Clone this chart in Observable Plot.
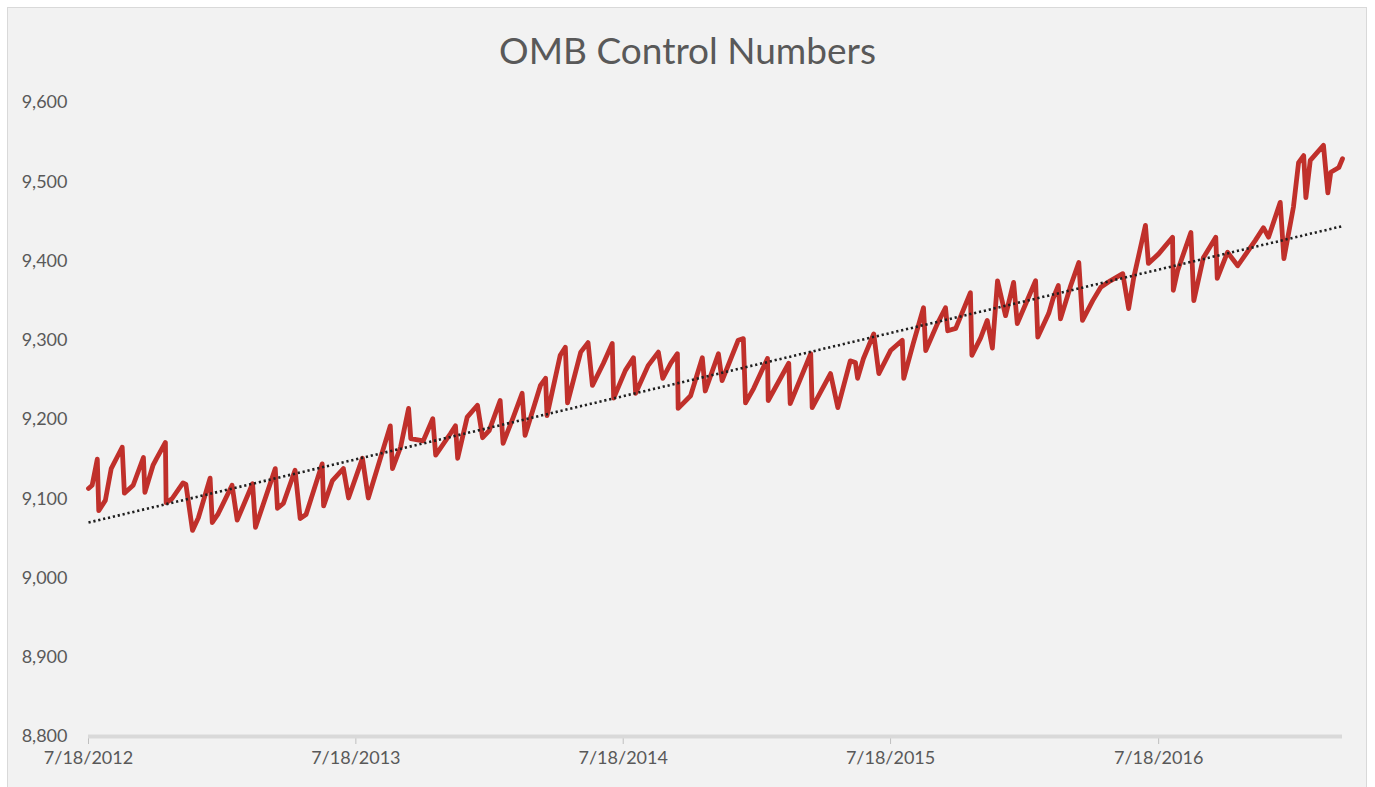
<!DOCTYPE html>
<html>
<head>
<meta charset="utf-8">
<script src="https://cdn.jsdelivr.net/npm/d3@7"></script>
<script src="https://cdn.jsdelivr.net/npm/@observablehq/plot@0.6"></script>
<style>
  body { margin: 0; background: #ffffff; width: 1375px; height: 787px; overflow: hidden; position: relative; }
  #panel { position: absolute; left: 7px; top: 7px; width: 1360px; height: 800px; background: #f2f2f2; border: 1px solid #d9d9d9; box-sizing: border-box; }
  #title { position: absolute; left: 0; top: 27px; width: 1375px; text-align: center; font-family: Lato, "Open Sans", sans-serif; font-size: 37px; color: #595959; line-height: 46px; }
  #chart { position: absolute; left: 8px; top: 80px; }
</style>
</head>
<body>
<div id="panel"></div>
<div id="title">OMB Control Numbers</div>
<div id="chart"></div>
<script>
// Values: [date, number of OMB control numbers]
const y2012 = [["2012-07-18",9113],["2012-07-23",9117],["2012-07-30",9150],["2012-08-01",9085],["2012-08-10",9098],["2012-08-18",9138],["2012-09-02",9165],["2012-09-05",9107],["2012-09-17",9117],["2012-10-01",9152],["2012-10-03",9108],["2012-10-14",9142],["2012-10-19",9151],["2012-10-31",9171],["2012-11-01",9095],["2012-11-09",9100],["2012-11-24",9120],["2012-11-28",9118],["2012-12-07",9060],["2012-12-15",9076],["2012-12-31",9126]];
const y2013 = [["2013-01-03",9070],["2013-01-11",9081],["2013-01-30",9117],["2013-02-06",9073],["2013-02-27",9119],["2013-03-03",9064],["2013-03-30",9138],["2013-04-02",9088],["2013-04-10",9094],["2013-04-26",9136],["2013-05-03",9075],["2013-05-11",9080],["2013-06-02",9144],["2013-06-04",9091],["2013-06-16",9123],["2013-07-01",9138],["2013-07-08",9101],["2013-07-27",9151],["2013-08-04",9101],["2013-09-03",9192],["2013-09-06",9138],["2013-09-17",9165],["2013-09-28",9214],["2013-10-01",9176],["2013-10-18",9173],["2013-10-31",9201],["2013-11-04",9155],["2013-11-24",9182],["2013-12-01",9192],["2013-12-04",9151],["2013-12-17",9203],["2013-12-31",9218]];
const y2014 = [["2014-01-07",9177],["2014-01-16",9186],["2014-01-31",9224],["2014-02-04",9170],["2014-02-18",9203],["2014-03-02",9233],["2014-03-06",9180],["2014-03-27",9243],["2014-04-03",9252],["2014-04-05",9205],["2014-04-23",9281],["2014-04-30",9291],["2014-05-03",9221],["2014-05-21",9285],["2014-05-31",9297],["2014-06-06",9243],["2014-06-21",9271],["2014-07-03",9296],["2014-07-05",9227],["2014-07-21",9262],["2014-08-01",9278],["2014-08-04",9233],["2014-08-21",9268],["2014-09-04",9285],["2014-09-10",9252],["2014-09-21",9271],["2014-09-30",9283],["2014-10-01",9214],["2014-10-18",9230],["2014-11-03",9278],["2014-11-07",9236],["2014-11-25",9283],["2014-11-30",9249],["2014-12-22",9300],["2014-12-29",9302]];
const y2015 = [["2015-01-01",9221],["2015-01-12",9239],["2015-01-31",9277],["2015-02-01",9224],["2015-03-01",9271],["2015-03-03",9220],["2015-03-31",9283],["2015-04-02",9215],["2015-04-27",9258],["2015-05-07",9215],["2015-05-24",9274],["2015-05-31",9272],["2015-06-03",9252],["2015-06-11",9277],["2015-06-25",9308],["2015-07-02",9258],["2015-07-18",9287],["2015-08-03",9300],["2015-08-05",9252],["2015-08-18",9296],["2015-09-01",9341],["2015-09-04",9287],["2015-09-20",9321],["2015-10-01",9341],["2015-10-04",9312],["2015-10-15",9315],["2015-11-04",9360],["2015-11-06",9281],["2015-11-18",9303],["2015-11-27",9325],["2015-12-04",9290],["2015-12-11",9375],["2015-12-22",9331]];
const y2016 = [["2016-01-02",9373],["2016-01-07",9321],["2016-02-01",9375],["2016-02-04",9304],["2016-02-19",9334],["2016-02-25",9353],["2016-03-03",9369],["2016-03-06",9327],["2016-03-20",9369],["2016-03-31",9398],["2016-04-05",9325],["2016-04-19",9350],["2016-04-30",9367],["2016-05-13",9375],["2016-05-30",9384],["2016-06-07",9340],["2016-06-14",9379],["2016-06-30",9445],["2016-07-04",9397],["2016-07-18",9409],["2016-08-06",9430],["2016-08-07",9363],["2016-08-13",9388],["2016-08-31",9436],["2016-09-04",9350],["2016-09-17",9404],["2016-10-04",9430],["2016-10-06",9378],["2016-10-20",9411],["2016-11-03",9394],["2016-11-27",9426],["2016-12-08",9442],["2016-12-15",9430],["2016-12-31",9474]];
const y2017 = [["2017-01-05",9403],["2017-01-18",9468],["2017-01-25",9524],["2017-02-01",9533],["2017-02-04",9480],["2017-02-10",9527],["2017-02-28",9546],["2017-03-06",9486],["2017-03-10",9512],["2017-03-21",9518],["2017-03-26",9529]];

// Linear trend line endpoints (dotted)
const trendPoints = [["2012-07-18",9070],["2017-03-26",9444]];

// Axis ticks
const yTicks = [8800, 8900, 9000, 9100, 9200, 9300, 9400, 9500, 9600];
const xTickDates = ["2012-07-18", "2013-07-18", "2014-07-18", "2015-07-18", "2016-07-18"];
const xTickLabels = ["7/18/2012", "7/18/2013", "7/18/2014", "7/18/2015", "7/18/2016"];

const parse = d3.utcParse("%Y-%m-%d");
const series = [...y2012, ...y2013, ...y2014, ...y2015, ...y2016, ...y2017]
  .map(([d, v]) => ({date: parse(d), value: v}));
const trend = trendPoints.map(([d, v]) => ({date: parse(d), value: v}));
const xTicks = xTickDates.map(parse);
const labelOf = new Map(xTicks.map((t, i) => [+t, xTickLabels[i]]));

const chart = Plot.plot({
  width: 1359,
  height: 700,
  marginLeft: 80,
  marginRight: 25,
  marginTop: 22,
  marginBottom: 44,
  style: {background: "transparent", color: "#595959", fontFamily: "Lato, 'Open Sans', sans-serif", fontSize: "18px"},
  x: {type: "utc", domain: [trend[0].date, trend[1].date]},
  y: {domain: [8800, 9600]},
  marks: [
    Plot.axisY({ticks: yTicks, tickFormat: d3.format(","), tickSize: 0, tickPadding: 21, label: null, fontSize: 18, fill: "#595959"}),
    Plot.axisX({ticks: xTicks, tickFormat: d => labelOf.get(+d), tickSize: 8, tickPadding: 7, label: null, stroke: "#bfbfbf", fontSize: 18, fill: "#595959"}),
    Plot.ruleY([8800], {stroke: "#d9d9d9", strokeWidth: 4}),
    Plot.line(series, {x: "date", y: "value", stroke: "#c0302b", strokeWidth: 4.8, strokeLinejoin: "round", strokeLinecap: "round"}),
    Plot.line(trend, {x: "date", y: "value", stroke: "#1f1f1f", strokeWidth: 2.6, strokeDasharray: "2.2,2.8", strokeLinecap: "butt"})
  ]
});
document.getElementById("chart").appendChild(chart);
</script>
</body>
</html>
